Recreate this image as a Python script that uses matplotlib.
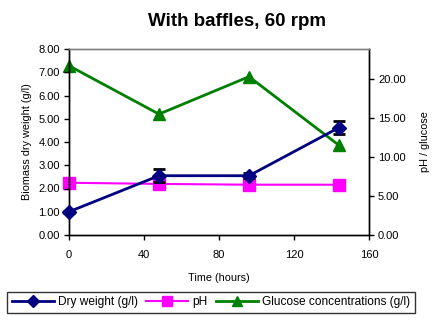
import matplotlib
matplotlib.use("Agg")
import matplotlib.pyplot as plt
from matplotlib.lines import Line2D

plt.rcParams['font.family'] = ['Liberation Sans', 'DejaVu Sans']

# Sampling times and measurements
time_h = [0, 48, 96, 144]
dry_weight = [1.00, 2.55, 2.55, 4.62]
dry_weight_err = [0.05, 0.27, 0.10, 0.29]
ph = [6.70, 6.55, 6.45, 6.45]
glucose = [21.7, 15.5, 20.3, 11.5]

x_ticks = [0, 40, 80, 120, 160]
left_ticks = [0, 1, 2, 3, 4, 5, 6, 7, 8]
right_ticks = [0, 5, 10, 15, 20]

NAVY = '#000080'
MAGENTA = '#FF00FF'
GREEN = '#008000'

fig = plt.figure(figsize=(4.43, 3.28), dpi=100)
ax = fig.add_axes([69/443, 1 - 235/328, 300/443, 186/328])
ax2 = ax.twinx()

ax.errorbar(time_h, dry_weight, yerr=dry_weight_err, color=NAVY, lw=2,
            marker='D', ms=7, mfc=NAVY, mec=NAVY, ecolor='black',
            elinewidth=1.5, capsize=4, capthick=2, zorder=3,
            clip_on=False)
ax2.plot(time_h, ph, color=MAGENTA, lw=1.5, marker='s', ms=8, clip_on=False)
ax2.plot(time_h, glucose, color=GREEN, lw=2, marker='^', ms=9, clip_on=False)

ax.set_zorder(ax2.get_zorder() + 1)
ax.patch.set_visible(False)

ax.set_xlim(0, 160)
ax.set_ylim(0, 8)
ax2.set_ylim(0, 23.85)
ax.set_xticks(x_ticks)
ax.set_xticklabels([str(t) for t in x_ticks])
ax.set_yticks(left_ticks)
ax.set_yticklabels([f"{v:.2f}" for v in left_ticks])
ax2.set_yticks(right_ticks)
ax2.set_yticklabels([f"{v:.2f}" for v in right_ticks])

for a in (ax, ax2):
    a.tick_params(labelsize=8, length=3.5, width=1, color='black', pad=3)
    for side in ('left', 'bottom', 'right'):
        a.spines[side].set_color('black')
        a.spines[side].set_linewidth(1)
    a.spines['top'].set_color('#808080')
    a.spines['top'].set_linewidth(1)
ax.tick_params(axis='x', pad=7)

ax.set_xlabel('Time (hours)', fontsize=7.8, labelpad=10)
ax.set_ylabel('Biomass dry weight (g/l)', fontsize=7.8, labelpad=5)
ax2.set_ylabel('pH / glucose', fontsize=7.8, labelpad=10)

fig.text(237/443, 1 - 22/328, 'With baffles, 60 rpm', ha='center', va='center',
         fontsize=13.5, fontweight='bold')

handles = [
    Line2D([], [], color=NAVY, lw=2, marker='D', ms=6),
    Line2D([], [], color=MAGENTA, lw=1.5, marker='s', ms=7),
    Line2D([], [], color=GREEN, lw=2, marker='^', ms=7),
]
labels = ['Dry weight (g/l)', 'pH', 'Glucose concentrations (g/l)']
leg = fig.legend(handles, labels, loc='center', ncol=3,
                 bbox_to_anchor=(211/443, 1 - 302.5/328), fontsize=8.6,
                 frameon=True, fancybox=False, edgecolor='black',
                 handlelength=3.5, columnspacing=0.7, handletextpad=0.35,
                 borderpad=0.4, borderaxespad=0)
leg.get_frame().set_linewidth(1)

fig.savefig('out.png', dpi=100)
